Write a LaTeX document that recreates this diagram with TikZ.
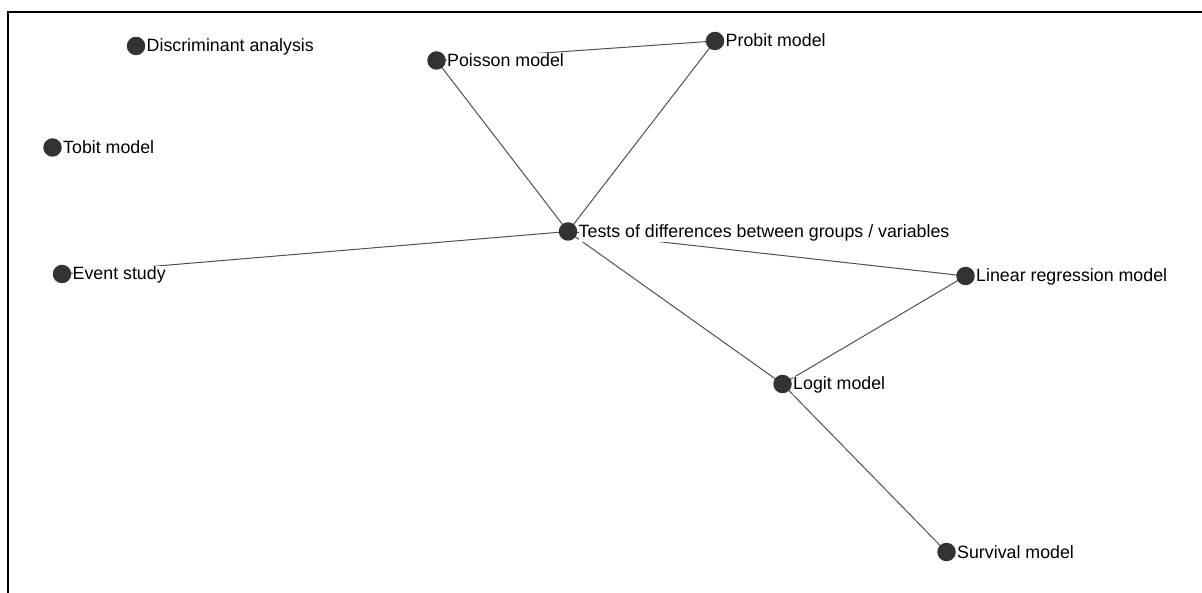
\documentclass[tikz,border=0pt]{standalone}
\usepackage{fontspec}
\setmainfont{Liberation Sans}
\usetikzlibrary{backgrounds}
\definecolor{dotc}{HTML}{333333}
\definecolor{edgec}{HTML}{505050}
\tikzset{
  dot/.style={circle,fill=dotc,draw=none,minimum size=18.5pt,inner sep=0pt},
  lbl/.style={anchor=base west,fill=white,inner xsep=0pt,inner ysep=1pt,text=black,
    font=\fontsize{17.8}{20}\selectfont},
  edge/.style={draw=edgec,line width=1pt},
  frame/.style={draw=black,line width=2pt}
}
\begin{document}
\begin{tikzpicture}[x=1pt,y=-1pt]
\useasboundingbox (0,0) rectangle (1202,593);
\coordinate (ftr) at (1202,12);
\coordinate (ftl) at (7.7,12);
\coordinate (fbl) at (7.7,593);
\draw[frame] (ftr) -- (ftl) -- (fbl);
% dots
\node[dot] (disc) at (136,46) {};
\node[dot] (tobit) at (52.5,147.5) {};
\node[dot] (poisson) at (436.5,60.5) {};
\node[dot] (probit) at (715,41) {};
\node[dot] (tests) at (568,231.5) {};
\node[dot] (event) at (62,274) {};
\node[dot] (linear) at (965.5,276) {};
\node[dot] (logit) at (782.5,384) {};
\node[dot] (survival) at (946.5,552) {};
% edges
\begin{scope}[on background layer]
\draw[edge] (poisson.center) -- (probit.center);
\draw[edge] (poisson.center) -- (tests.center);
\draw[edge] (probit.center) -- (tests.center);
\draw[edge] (event.center) -- (tests.center);
\draw[edge] (tests.center) -- (linear.center);
\draw[edge] (tests.center) -- (logit.center);
\draw[edge] (linear.center) -- (logit.center);
\draw[edge] (logit.center) -- (survival.center);
\end{scope}
% labels
\node[lbl] (discL) at ([xshift=10.5pt,yshift=-6pt]disc.center) {Discriminant analysis};
\node[lbl] (tobitL) at ([xshift=10.5pt,yshift=-6pt]tobit.center) {Tobit model};
\node[lbl] (poissonL) at ([xshift=10.5pt,yshift=-6pt]poisson.center) {Poisson model};
\node[lbl] (probitL) at ([xshift=10.5pt,yshift=-6pt]probit.center) {Probit model};
\node[lbl] (testsL) at ([xshift=10.5pt,yshift=-6pt]tests.center) {Tests of differences between groups / variables};
\node[lbl] (eventL) at ([xshift=10.5pt,yshift=-6pt]event.center) {Event study};
\node[lbl] (linearL) at ([xshift=10.5pt,yshift=-6pt]linear.center) {Linear regression model};
\node[lbl] (logitL) at ([xshift=10.5pt,yshift=-6pt]logit.center) {Logit model};
\node[lbl] (survivalL) at ([xshift=10.5pt,yshift=-6pt]survival.center) {Survival model};
\end{tikzpicture}
\end{document}
